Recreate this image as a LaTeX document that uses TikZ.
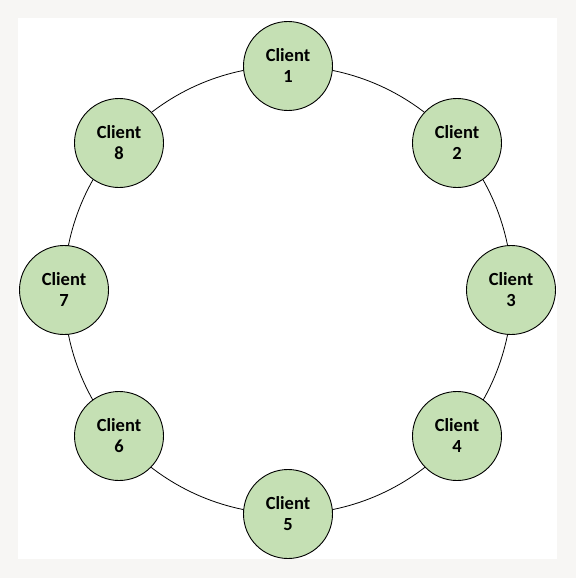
\documentclass[tikz,border=0pt]{standalone}
\usepackage{fontspec}
\setmainfont{Carlito}
\definecolor{bggray}{HTML}{F7F6F4}
\definecolor{nodegreen}{HTML}{C5E0B4}
\begin{document}
\begin{tikzpicture}[x=1pt,y=-1pt,
  client/.style={circle,draw=black,line width=0.9pt,fill=nodegreen,minimum size=89pt,inner sep=0pt,
    align=center,font=\fontsize{18.5}{21}\selectfont\bfseries}]
\fill[bggray] (0,0) rectangle (576,578);
\useasboundingbox (0,0) rectangle (576,578);
\fill[white] (18,18) rectangle (557,559);
\coordinate (c) at (288,290);
\draw[line width=0.8pt] (c) circle[radius=224];
\node[client] (n1) at (288,66) {Client\\1};
\node[client] (n2) at (457,143) {Client\\2};
\node[client] (n3) at (511,290) {Client\\3};
\node[client] (n4) at (457,436) {Client\\4};
\node[client] (n5) at (288,514) {Client\\5};
\node[client] (n6) at (119,436) {Client\\6};
\node[client] (n7) at (64,290) {Client\\7};
\node[client] (n8) at (119,143) {Client\\8};
\end{tikzpicture}
\end{document}
